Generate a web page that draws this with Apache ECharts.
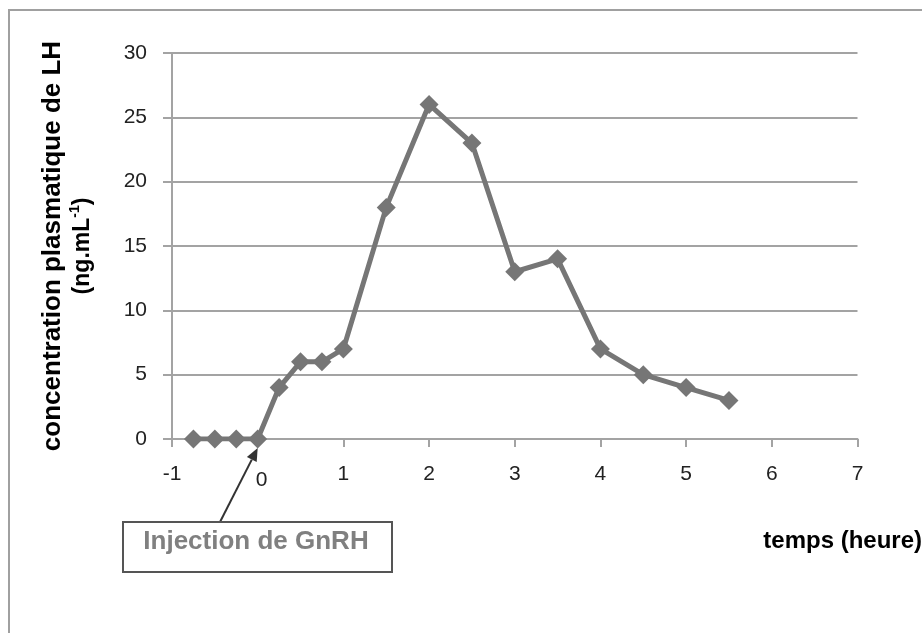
<!DOCTYPE html>
<html>
<head>
<meta charset="utf-8">
<script src="https://cdn.jsdelivr.net/npm/echarts@6/dist/echarts.min.js"></script>
<style>
html,body{margin:0;padding:0;background:#fff;}
#c{width:922px;height:633px;}
</style>
</head>
<body>
<div id="c"></div>
<script>
const times = [-0.75, -0.5, -0.25, 0, 0.25, 0.5, 0.75, 1, 1.5, 2, 2.5, 3, 3.5, 4, 4.5, 5, 5.5];
const lhValues = [0, 0, 0, 0, 4, 6, 6, 7, 18, 26, 23, 13, 14, 7, 5, 4, 3];
const xTicks = {min: -1, max: 7, interval: 1};
const yTicks = {min: 0, max: 30, interval: 5};
const yTitle1 = 'concentration plasmatique de LH';
const yTitle2 = '(ng.mL';
const yTitleSup = '-1';
const xTitle = 'temps (heure)';
const annotation = 'Injection de GnRH';

const chart = echarts.init(document.getElementById('c'), null, {renderer: 'canvas'});
const axisGray = '#a3a3a3';
const option = {
  animation: false,
  backgroundColor: '#fff',
  grid: {left: 172, right: 64.5, top: 53, bottom: 194, containLabel: false},
  xAxis: {
    type: 'value', min: xTicks.min, max: xTicks.max, interval: xTicks.interval,
    axisLine: {show: true, onZero: false, lineStyle: {color: axisGray, width: 2}},
    axisTick: {show: true, length: 8, lineStyle: {color: axisGray, width: 2}},
    splitLine: {show: false},
    axisLabel: {
      margin: 25, color: '#222', fontFamily: 'Liberation Sans', fontSize: 21,
      formatter: v => v === 0 ? '{z|0}' : String(v),
      rich: {z: {fontFamily: 'Liberation Sans', fontSize: 21, color: '#222', padding: [6, 0, 0, 8]}}
    }
  },
  yAxis: {
    type: 'value', min: yTicks.min, max: yTicks.max, interval: yTicks.interval,
    axisLine: {show: true, onZero: false, lineStyle: {color: axisGray, width: 2}},
    axisTick: {show: true, length: 9, lineStyle: {color: axisGray, width: 2}},
    splitLine: {show: true, lineStyle: {color: axisGray, width: 2}},
    axisLabel: {margin: 25, color: '#222', fontFamily: 'Liberation Sans', fontSize: 21},
    name: '{a|' + yTitle1 + '}\n{b|' + yTitle2 + '}{s|' + yTitleSup + '}{b|)}',
    nameLocation: 'middle', nameRotate: 90, nameGap: 74,
    nameTextStyle: {
      rich: {
        a: {fontFamily: 'Liberation Sans', fontWeight: 'bold', fontSize: 26, color: '#000', lineHeight: 31},
        b: {fontFamily: 'Liberation Sans', fontWeight: 'bold', fontSize: 23, color: '#000', lineHeight: 30},
        s: {fontFamily: 'Liberation Sans', fontWeight: 'bold', fontSize: 14, color: '#000', lineHeight: 30, verticalAlign: 'top', padding: [0, 0, 10, 0]}
      }
    }
  },
  series: [{
    type: 'line',
    data: times.map((t, i) => [t, lhValues[i]]),
    symbol: 'diamond', symbolSize: 19,
    lineStyle: {color: '#767676', width: 5},
    itemStyle: {color: '#767676'},
    z: 5
  }]
};
chart.setOption(option);

// annotation arrow pointing at the injection point (t = 0)
const tip0 = chart.convertToPixel({gridIndex: 0}, [0, 0]);
const tip = [tip0[0], tip0[1] + 9];
const tail = [220, 522];
const dx = tip[0] - tail[0], dy = tip[1] - tail[1];
const len = Math.sqrt(dx * dx + dy * dy);
const ux = dx / len, uy = dy / len;
const hl = 13, hw = 5.5;
const base = [tip[0] - ux * hl, tip[1] - uy * hl];
const head = [tip, [base[0] - uy * hw, base[1] + ux * hw], [base[0] + uy * hw, base[1] - ux * hw]];

chart.setOption({
  graphic: [
    {type: 'rect', silent: true, z: -10, shape: {x: 9, y: 10, width: 1000, height: 1000},
      style: {fill: 'none', stroke: '#a0a0a0', lineWidth: 2}},
    {type: 'line', silent: true, z: 10, shape: {x1: tail[0], y1: tail[1], x2: base[0], y2: base[1]},
      style: {stroke: '#333', lineWidth: 2}},
    {type: 'polygon', silent: true, z: 10, shape: {points: head}, style: {fill: '#333'}},
    {type: 'rect', silent: true, z: 10, shape: {x: 123, y: 522, width: 269, height: 50},
      style: {fill: '#fff', stroke: '#555', lineWidth: 2}},
    {type: 'text', silent: true, z: 11, x: 256, y: 542,
      style: {text: annotation, fontFamily: 'Liberation Sans', fontWeight: 'bold', fontSize: 26,
        fill: '#808080', align: 'center', verticalAlign: 'middle'}},
    {type: 'text', silent: true, z: 11, x: 922, y: 541,
      style: {text: xTitle, fontFamily: 'Liberation Sans', fontWeight: 'bold', fontSize: 24,
        fill: '#000', align: 'right', verticalAlign: 'middle'}}
  ]
});
</script>
</body>
</html>
